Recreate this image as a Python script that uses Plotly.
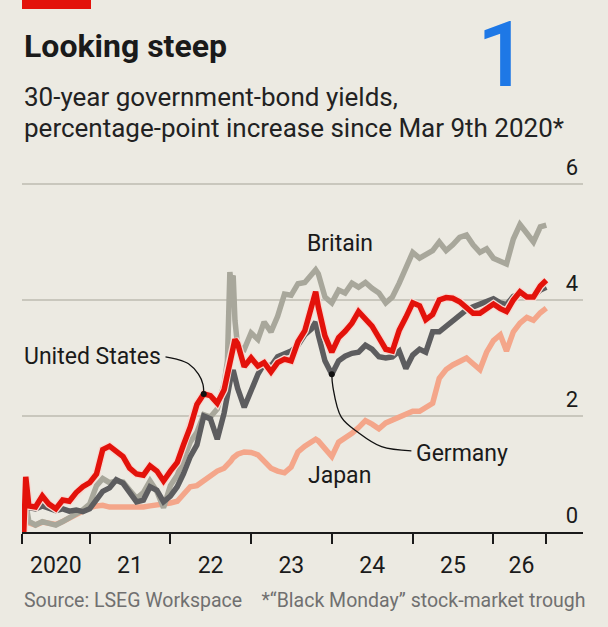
"""Looking steep: 30-year government-bond yields since the March 2020 trough."""

import plotly.graph_objects as go

# Shared observation dates (roughly monthly, with a few extra days around big moves).
DATES = [
    "2020-03-09", "2020-03-18", "2020-04-01", "2020-05-01", "2020-06-01", "2020-07-01",
    "2020-08-01", "2020-09-01", "2020-10-01", "2020-11-01", "2020-12-01",
    "2021-01-01", "2021-02-01", "2021-03-01", "2021-04-01", "2021-05-01", "2021-06-01",
    "2021-07-01", "2021-08-01", "2021-09-01", "2021-10-01", "2021-11-01", "2021-12-01",
    "2022-01-01", "2022-02-01", "2022-03-01", "2022-04-01", "2022-05-01", "2022-06-01",
    "2022-07-01", "2022-08-01", "2022-09-01", "2022-09-16", "2022-09-27", "2022-10-01",
    "2022-10-12", "2022-10-20", "2022-11-01", "2022-12-01",
    "2023-01-01", "2023-02-01", "2023-03-01", "2023-04-01", "2023-05-01", "2023-06-01",
    "2023-07-01", "2023-08-01", "2023-09-01", "2023-10-01", "2023-10-20", "2023-11-01",
    "2023-12-01",
    "2024-01-01", "2024-02-01", "2024-03-01", "2024-04-01", "2024-05-01", "2024-06-01",
    "2024-07-01", "2024-08-01", "2024-09-01", "2024-10-01", "2024-11-01", "2024-12-01",
    "2025-01-01", "2025-02-01", "2025-03-01", "2025-04-01", "2025-05-01", "2025-06-01",
    "2025-07-01", "2025-08-01", "2025-09-01", "2025-10-01", "2025-11-01", "2025-12-01",
    "2026-01-01", "2026-02-01", "2026-03-01", "2026-04-01", "2026-05-01", "2026-06-01",
    "2026-07-01", "2026-08-01", "2026-08-28",
]

# Percentage-point change since Mar 9th 2020
UNITED_STATES = [
    0.00, 0.95, 0.45, 0.43, 0.62, 0.48, 0.40, 0.55, 0.53, 0.68, 0.78,
    0.85, 1.00, 1.42, 1.48, 1.38, 1.30, 1.10, 1.00, 0.98, 1.14, 1.05, 0.88,
    1.05, 1.20, 1.50, 1.81, 2.20, 2.38, 2.35, 2.22, 2.45, 2.75, 2.92, 2.98,
    3.15, 3.32, 3.25, 2.85,
    3.00, 2.86, 2.92, 2.76, 2.92, 2.98, 2.95, 3.28, 3.47, 3.85, 4.14, 3.88,
    3.38,
    3.10, 3.35, 3.46, 3.60, 3.80, 3.68, 3.55, 3.35, 3.15, 3.12, 3.48, 3.70,
    3.95, 3.90, 3.66, 3.75, 4.00, 4.04, 4.03, 3.97, 3.86, 3.77, 3.77, 3.85,
    3.93, 3.85, 3.80, 4.00, 4.14, 4.05, 4.05, 4.24, 4.34,
]
BRITAIN = [
    0.00, 0.50, 0.18, 0.12, 0.18, 0.15, 0.12, 0.18, 0.25, 0.30, 0.38,
    0.48, 0.80, 0.92, 0.85, 0.88, 0.86, 0.72, 0.58, 0.68, 0.88, 0.70, 0.42,
    0.80, 0.98, 1.25, 1.55, 1.72, 2.02, 1.98, 2.12, 2.55, 2.95, 4.48, 4.35,
    4.42, 3.65, 3.20, 3.15,
    3.43, 3.32, 3.62, 3.45, 3.72, 4.10, 4.08, 4.28, 4.30, 4.45, 4.52, 4.45,
    4.05,
    3.95, 4.17, 4.12, 4.29, 4.22, 4.30, 4.20, 4.12, 3.95, 4.05, 4.29, 4.55,
    4.82, 4.72, 4.78, 4.85, 5.00, 4.85, 4.95, 5.08, 5.12, 4.95, 4.82, 4.88,
    4.72, 4.67, 4.62, 5.05, 5.30, 5.15, 5.00, 5.26, 5.29,
]
GERMANY = [
    0.00, 0.55, 0.42, 0.40, 0.45, 0.42, 0.37, 0.40, 0.36, 0.38, 0.35,
    0.40, 0.58, 0.70, 0.76, 0.90, 0.84, 0.70, 0.52, 0.55, 0.78, 0.72, 0.52,
    0.62, 0.78, 1.00, 1.30, 1.50, 2.00, 1.95, 1.60, 2.05, 2.40, 2.62, 2.66,
    2.79, 2.62, 2.48, 2.15,
    2.45, 2.72, 2.90, 2.86, 3.02, 3.08, 3.12, 3.22, 3.40, 3.50, 3.62, 3.40,
    2.95,
    2.72, 2.95, 3.03, 3.08, 3.10, 3.22, 3.15, 3.02, 3.00, 3.02, 3.12, 2.82,
    3.05, 3.15, 3.10, 3.45, 3.45, 3.55, 3.65, 3.72, 3.83, 3.88, 3.92, 3.98,
    4.02, 3.95, 3.92, 4.06, 4.10, 4.04, 4.06, 4.17, 4.22,
]
JAPAN = [
    0.00, 0.30, 0.16, 0.12, 0.17, 0.15, 0.13, 0.18, 0.24, 0.30, 0.36,
    0.42, 0.45, 0.46, 0.43, 0.43, 0.43, 0.41, 0.41, 0.43, 0.45, 0.46, 0.47,
    0.50, 0.53, 0.65, 0.78, 0.80, 0.88, 0.98, 1.05, 1.10, 1.15, 1.20, 1.22,
    1.28, 1.30, 1.34, 1.38,
    1.37, 1.33, 1.22, 1.10, 1.05, 1.02, 1.12, 1.38, 1.48, 1.56, 1.60, 1.57,
    1.42,
    1.30, 1.55, 1.62, 1.70, 1.80, 1.92, 1.86, 1.78, 1.88, 1.93, 2.00, 2.05,
    2.08, 2.08, 2.16, 2.22, 2.65, 2.80, 2.88, 2.95, 3.00, 2.90, 2.80, 3.10,
    3.30, 3.40, 3.12, 3.45, 3.60, 3.70, 3.65, 3.78, 3.86,
]

# Year boundaries get tick marks, labels sit in the middle of each period
TICK_DATES = [
    "2020-03-01", "2021-01-01", "2022-01-01", "2023-01-01", "2024-01-01",
    "2025-01-01", "2026-01-01", "2026-08-28",
]
LABEL_DATES = [
    "2020-08-01", "2021-07-02", "2022-07-02", "2023-07-02", "2024-07-02",
    "2025-07-02", "2026-05-08",
]
LABEL_TEXT = ["2020", "21", "22", "23", "24", "25", "26"]
Y_TICKS = [0, 2, 4, 6]

BG = "#ECEAE2"
FONT = "Roboto, 'Open Sans', sans-serif"
RED = "#E3120B"

# Plot-area geometry in pixels, used to place the headline texts.
# Top of the plot sits above the 6 gridline so its label has room.
W, H = 608, 627
L, R, T, B = 22, 25, 141, 95
PW, PH = W - L - R, H - T - B


def px_x(x):
    return (x - L) / PW


def px_y(y):
    return (H - B - y) / PH


def line(y, color, width, name):
    return go.Scatter(
        x=DATES, y=y, mode="lines", name=name,
        line={"color": color, "width": width}, hoverinfo="skip",
    )


fig = go.Figure()
fig.add_trace(line(JAPAN, "#F4A68A", 5.5, "Japan"))
fig.add_trace(line(BRITAIN, "#A8A79B", 5.5, "Britain"))
fig.add_trace(line(GERMANY, "#5D5D5F", 5.5, "Germany"))
fig.add_trace(line(UNITED_STATES, "#F6D9D2", 8, "halo"))
fig.add_trace(line(UNITED_STATES, RED, 5.5, "United States"))

# Leader lines from the labels to their series
us_i = DATES.index("2022-06-01")
de_i = DATES.index("2024-01-01")
leaders = [
    (["2021-12-10", "2022-01-29", "2022-03-24", "2022-05-08", "2022-05-28", DATES[us_i]],
     [3.02, 2.98, 2.90, 2.72, 2.55, UNITED_STATES[us_i]]),
    ([DATES[de_i], "2024-01-06", "2024-02-13", "2024-05-01", "2024-08-13", "2024-12-26"],
     [GERMANY[de_i], 2.50, 1.98, 1.71, 1.47, 1.40]),
]
for lx, ly in leaders:
    fig.add_trace(go.Scatter(
        x=lx, y=ly, mode="lines", hoverinfo="skip",
        line={"color": "#111111", "width": 1.3, "shape": "spline", "smoothing": 1.0},
    ))
fig.add_trace(go.Scatter(
    x=[DATES[us_i], DATES[de_i]], y=[UNITED_STATES[us_i], GERMANY[de_i]],
    mode="markers", hoverinfo="skip", marker={"color": "#111111", "size": 6},
))

series_labels = [
    ("United States", "2021-11-28", 3.02, "right"),
    ("Britain", "2024-02-08", 4.98, "center"),
    ("Germany", "2025-01-08", 1.36, "left"),
    ("Japan", "2023-09-08", 0.97, "left"),
]
for text, x, y, anchor in series_labels:
    fig.add_annotation(
        x=x, y=y, text=text, showarrow=False, xanchor=anchor, yanchor="middle",
        font={"family": FONT, "size": 23, "color": "#1a1a1a"},
    )

# Headline block
headline = [
    ("<b>Looking steep</b>", 22, 46, 32, "#1a1a1a"),
    ("30-year government-bond yields,", 22, 97, 26, "#222222"),
    ("percentage-point increase since Mar 9th 2020*", 22, 128, 26, "#222222"),
    ("Source: LSEG Workspace\u00a0\u00a0\u00a0\u00a0*\u201cBlack Monday\u201d stock-market trough",
     22, 600, 19.5, "#707070"),
]
for text, x, y, size, color in headline:
    fig.add_annotation(
        xref="paper", yref="paper", x=px_x(x), y=px_y(y), text=text,
        showarrow=False, xanchor="left", yanchor="middle",
        font={"family": FONT, "size": size, "color": color},
    )
fig.add_annotation(
    xref="paper", yref="paper", x=px_x(502), y=px_y(55), text="1",
    showarrow=False, xanchor="center", yanchor="middle",
    font={"family": FONT, "size": 90, "color": "#1E78E6", "weight": 500},
)
fig.add_shape(
    type="rect", xref="paper", yref="paper",
    x0=px_x(22), x1=px_x(91), y0=px_y(9), y1=px_y(-2),
    fillcolor=RED, line={"width": 0},
)

fig.update_layout(
    width=W, height=H,
    margin={"l": L, "r": R, "t": T, "b": B},
    paper_bgcolor=BG, plot_bgcolor=BG,
    showlegend=False, hovermode=False,
    font={"family": FONT, "color": "#1a1a1a"},
    xaxis={
        "type": "date",
        "range": ["2020-03-01", "2027-02-10"],
        "tickmode": "array", "tickvals": LABEL_DATES, "ticktext": LABEL_TEXT,
        "ticks": "", "ticklabelstandoff": 12,
        "tickfont": {"family": FONT, "size": 23, "color": "#1a1a1a"},
        "showgrid": False, "zeroline": False,
        "showline": True, "linecolor": "#1a1a1a", "linewidth": 1.5,
        "minor": {
            "tickmode": "array", "tickvals": TICK_DATES, "ticks": "outside",
            "ticklen": 10, "tickwidth": 1.5, "tickcolor": "#1a1a1a", "showgrid": False,
        },
        "fixedrange": True,
    },
    yaxis={
        "range": [0, 6.74],
        "tickmode": "array", "tickvals": Y_TICKS,
        "side": "right", "ticklabelposition": "inside", "ticks": "",
        "ticklabelshift": -17, "ticklabelstandoff": 2,
        "tickfont": {"family": FONT, "size": 22, "color": "#1a1a1a"},
        "showgrid": True, "gridcolor": "#C9C7BD", "gridwidth": 1.5,
        "zeroline": False, "showline": False,
        "fixedrange": True,
    },
)

# The browser's default body margin would push the figure off by 8px
fig.write_html(
    "out.html",
    config={"displayModeBar": False},
    post_script=f"document.body.style.margin='0';document.body.style.background='{BG}';",
)
